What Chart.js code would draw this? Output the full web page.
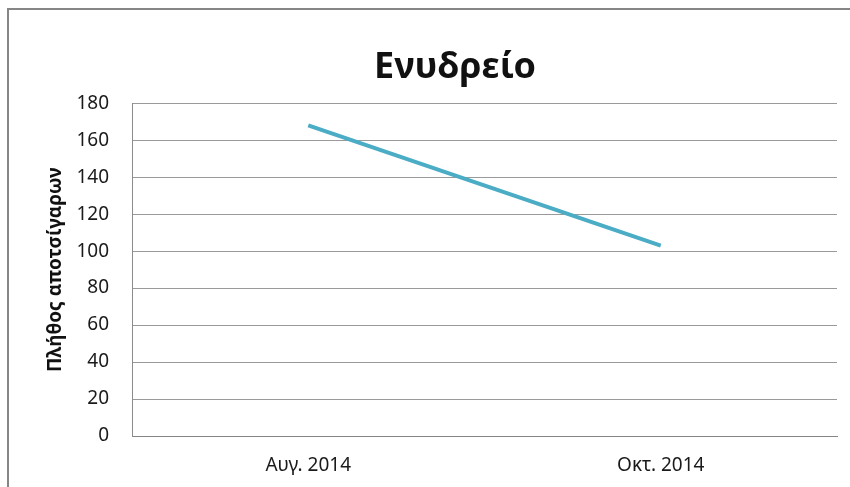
<!DOCTYPE html>
<html>
<head>
<meta charset="utf-8">
<script src="https://cdn.jsdelivr.net/npm/chart.js@4"></script>
<style>
  html, body { margin: 0; padding: 0; background: #fff; overflow: hidden; }
  .frame {
    position: absolute; left: 7px; top: 8px; width: 1000px; height: 600px;
    border-top: 2px solid #868686; border-left: 2px solid #868686;
  }
  #wrap { position: absolute; left: 0; top: 0; width: 850px; height: 487px; }
</style>
</head>
<body>
<div class="frame"></div>
<div id="wrap"><canvas id="chart"></canvas></div>
<script>
// ── DATA ──────────────────────────────────────────
const months  = ["Αυγ. 2014", "Οκτ. 2014"];
const butts   = [168, 103];
const yTicks  = { min: 0, max: 180, step: 20 };

const chartTitle = "Ενυδρείο";
const yTitle     = "Πλήθος αποτσίγαρων";

const FONT = "'Noto Sans', 'DejaVu Sans', sans-serif";

// ── CHART CONFIG ──────────────────────────────────
const config = {
  type: "line",
  data: {
    labels: months,
    datasets: [{
      label: chartTitle,
      data: butts,
      borderColor: "#4BACC6",
      borderWidth: 4,
      pointRadius: 0,
      tension: 0
    }]
  },
  options: {
    responsive: true,
    maintainAspectRatio: false,
    animation: false,
    layout: { padding: { left: 73, right: 13, top: 0, bottom: 0 } },
    scales: {
      x: {
        offset: true,
        grid: { display: false, drawTicks: false },
        border: { display: true, color: "#868686", width: 1 },
        ticks: { color: "#1a1a1a", padding: 18, font: { family: FONT, size: 19 } },
        afterFit: s => { s.height = 51; }
      },
      y: {
        min: yTicks.min,
        max: yTicks.max,
        grid: { color: "#9a9a9a", lineWidth: 1, drawTicks: false },
        border: { display: true, color: "#8c8c8c", width: 1 },
        ticks: {
          stepSize: yTicks.step,
          color: "#1a1a1a",
          padding: 23,
          font: { family: FONT, size: 19 }
        },
        title: {
          display: true,
          text: yTitle,
          color: "#111",
          // pull the title left of the axis box, like the original
          padding: { top: -29, bottom: 0 },
          font: { family: FONT, size: 19, weight: "bold" }
        },
        afterFit: s => { s.width = 59; }
      }
    },
    plugins: {
      legend: { display: false },
      tooltip: { enabled: false },
      title: {
        display: true,
        text: chartTitle,
        color: "#111",
        padding: { top: 46, bottom: 14 },
        font: { family: FONT, size: 36, weight: "bold", lineHeight: 1.2 }
      }
    }
  }
};

new Chart(document.getElementById("chart").getContext("2d"), config);
</script>
</body>
</html>
